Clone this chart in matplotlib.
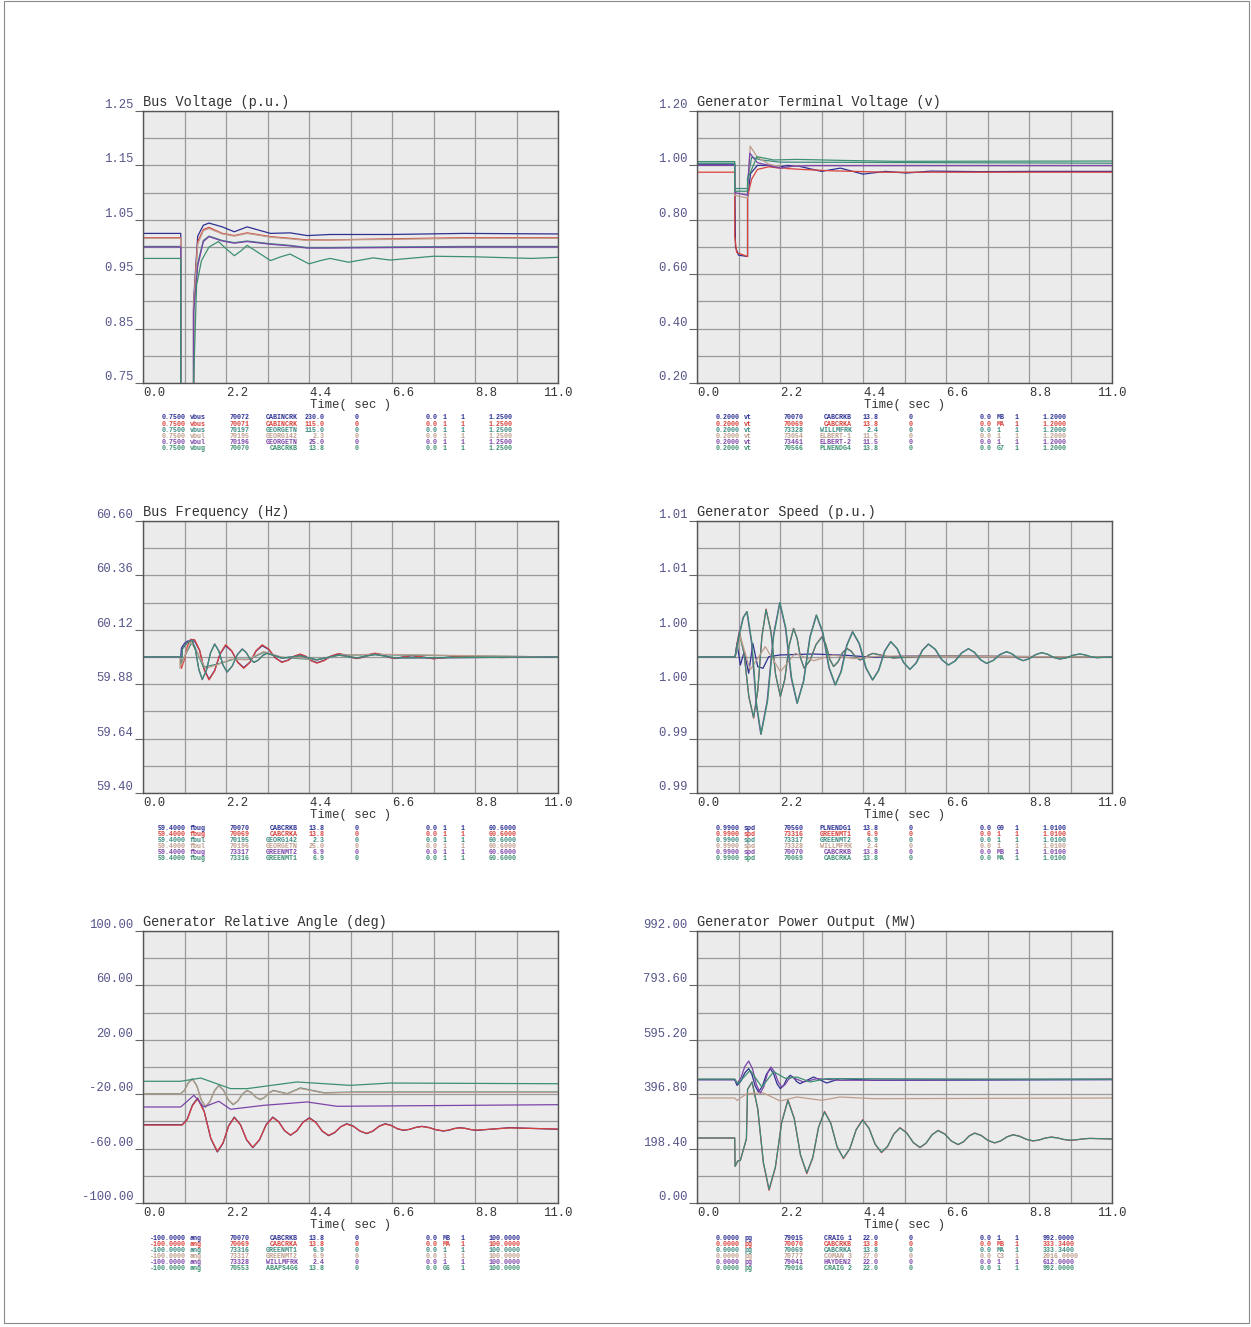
import matplotlib
matplotlib.use("Agg")
import matplotlib.pyplot as plt
from matplotlib.patches import Rectangle

plt.rcParams['font.family'] = ['Liberation Mono', 'DejaVu Sans Mono']

# one colour per channel row, same order in every panel
colors = ['#2e3192', '#d9413c', '#3b8a80', '#bf9d8c', '#7b45a8', '#3d9070']

# ---- Bus Voltage (p.u.)
vbus_t = [0, 1.0, 1.0, 1.34, 1.34, 1.45, 1.6, 1.75, 2.1, 2.42, 2.76, 3.38, 3.9, 4.35, 4.96, 6.55, 8.5, 11]
vbus1 = [1.025, 1.025, 0.45, 0.45, 0.90, 1.02, 1.040, 1.044, 1.037, 1.028, 1.037, 1.025, 1.026, 1.021, 1.023, 1.023, 1.025, 1.024]
vbus2 = [1.017, 1.017, 0.45, 0.45, 0.89, 1.01, 1.032, 1.036, 1.025, 1.021, 1.026, 1.019, 1.016, 1.013, 1.013, 1.015, 1.017, 1.017]
vbus3 = [1.001, 1.001, 0.45, 0.45, 0.885, 0.97, 1.012, 1.020, 1.012, 1.008, 1.011, 1.006, 1.003, 0.999, 0.999, 1.000, 1.001, 1.001]
vbus4 = [1.016, 1.016, 0.45, 0.45, 0.89, 1.005, 1.030, 1.034, 1.024, 1.020, 1.025, 1.018, 1.015, 1.012, 1.013, 1.014, 1.016, 1.016]
vbus5 = [1.000, 1.000, 0.45, 0.45, 0.88, 0.965, 1.010, 1.019, 1.011, 1.007, 1.010, 1.005, 1.002, 0.998, 0.998, 0.999, 1.000, 1.000]
vbus6_t = [0, 1.0, 1.0, 1.34, 1.34, 1.42, 1.55, 1.75, 2.0, 2.2, 2.42, 2.6, 2.76, 3.05, 3.38, 3.65, 3.9, 4.15, 4.4, 4.7, 4.96, 5.45, 6.1, 6.55, 7.7, 8.8, 10.3, 11]
vbus6 = [0.979, 0.979, 0.45, 0.45, 0.75, 0.93, 0.975, 1.000, 1.010, 0.997, 0.984, 0.993, 1.003, 0.990, 0.975, 0.982, 0.987, 0.978, 0.969, 0.975, 0.979, 0.972, 0.980, 0.976, 0.983, 0.982, 0.979, 0.981]

# ---- Generator Terminal Voltage
vt1_t = [0, 1.0, 1.02, 1.1, 1.34, 1.34, 1.42, 1.6, 1.9, 2.1, 2.4, 2.7, 3.3, 3.8, 4.4, 5.0, 5.55, 6.2, 7.5, 9.0, 11]
vt1 = [1.004, 1.004, 0.70, 0.67, 0.665, 0.88, 0.97, 1.0, 1.0, 0.992, 1.0, 0.997, 0.978, 0.99, 0.968, 0.978, 0.972, 0.979, 0.977, 0.978, 0.978]
vt2_t = [0, 1.0, 1.0, 1.05, 1.34, 1.34, 1.45, 1.6, 1.9, 2.2, 2.8, 3.6, 5.0, 11]
vt2 = [0.975, 0.975, 0.74, 0.68, 0.665, 0.885, 0.95, 0.985, 0.995, 0.99, 0.985, 0.98, 0.975, 0.975]
vt3_t = [0, 1.0, 1.0, 1.34, 1.34, 1.45, 1.7, 2.2, 11]
vt3 = [1.008, 1.008, 0.915, 0.915, 0.95, 1.03, 1.02, 1.012, 1.008]
vt4_t = [0, 1.0, 1.0, 1.34, 1.34, 1.41, 1.6, 1.9, 2.3, 2.6, 3.0, 11]
vt4 = [1.0, 1.0, 0.89, 0.88, 0.90, 1.071, 1.03, 1.005, 0.99, 0.998, 1.0, 1.0]
vt5_t = [0, 1.0, 1.0, 1.34, 1.34, 1.40, 1.6, 1.9, 2.2, 2.5, 3.0, 11]
vt5 = [1.0, 1.0, 0.90, 0.89, 0.92, 1.045, 1.01, 1.0, 0.99, 0.997, 0.999, 0.999]
vt6_t = [0, 1.0, 1.0, 1.34, 1.34, 1.59, 2.03, 2.65, 3.97, 5.29, 11]
vt6 = [1.014, 1.014, 0.905, 0.905, 0.95, 1.032, 1.02, 1.022, 1.018, 1.015, 1.016]

# ---- Bus Frequency (Hz)
f_t = [0, 1.0, 1.02, 1.10, 1.18, 1.26, 1.37, 1.497, 1.623, 1.75, 1.897, 2.043, 2.19, 2.35, 2.51, 2.67,
       2.833, 2.997, 3.16, 3.333, 3.507, 3.68, 3.843, 4.007, 4.17, 4.317, 4.463, 4.61, 4.8, 4.99, 5.18,
       5.343, 5.507, 5.67, 5.83, 5.99, 6.15, 6.327, 6.503, 6.68, 7.12, 7.7, 8.3, 9.5, 11]
f1 = [60.0, 60.0, 60.04, 60.06, 60.07, 60.072, 60.07, 60.030, 59.946, 59.902, 59.940, 60.013, 60.05, 60.026, 59.978, 59.953,
      59.977, 60.026, 60.05, 60.033, 59.996, 59.978, 59.986, 60.003, 60.011, 60.002, 59.984, 59.975, 59.985, 60.004, 60.013,
      60.009, 59.999, 59.994, 59.999, 60.010, 60.015, 60.010, 59.999, 59.994, 60.006, 59.993, 60.002, 59.998, 60.0]
f2 = [60.0, 60.0, 59.95, 59.99, 60.05, 60.078, 60.076, 60.032, 59.943, 59.899, 59.938, 60.015, 60.054, 60.028, 59.976, 59.95,
      59.976, 60.028, 60.054, 60.035, 59.996, 59.976, 59.985, 60.004, 60.013, 60.003, 59.983, 59.973, 59.984, 60.005, 60.015,
      60.010, 59.999, 59.993, 59.999, 60.011, 60.017, 60.011, 59.999, 59.993, 60.007, 59.992, 60.002, 59.998, 60.0]
f3_t = [0, 1.0, 1.0, 1.28, 1.36, 1.6, 2.0, 2.4, 2.8, 3.2, 3.7, 4.6, 5.2, 6.2, 11]
f3 = [60.0, 60.0, 59.97, 60.06, 60.05, 59.955, 59.97, 59.99, 59.99, 60.02, 59.998, 59.988, 60.008, 60.01, 60.0]
f4_t = [0, 0.98, 0.98, 1.26, 1.42, 1.66, 1.97, 2.32, 2.76, 3.2, 3.68, 4.17, 4.61, 5.18, 6.15, 11]
f4 = [60.0, 60.0, 59.95, 60.068, 60.024, 59.95, 59.966, 59.99, 59.988, 60.024, 59.999, 59.996, 59.987, 60.008, 60.012, 60.0]
f5_t = [0, 1.04, 1.04, 1.17, 1.30, 1.39, 1.48, 1.57, 1.68, 1.79, 1.90, 2.01, 2.12, 2.23, 2.363, 2.497, 2.63, 2.733,
        2.837, 2.94, 3.057, 3.173, 3.29, 3.68, 4.17, 4.61, 5.18, 5.67, 6.15, 6.68, 7.7, 11]
f5 = [60.0, 60.0, 60.036, 60.064, 60.076, 60.032, 59.944, 59.90, 59.94, 60.019, 60.058, 60.027, 59.964, 59.933, 59.959, 60.010, 60.036, 60.021,
      59.991, 59.976, 59.986, 60.007, 60.017, 59.995, 60.005, 59.987, 60.009, 59.996, 60.012, 59.996, 59.996, 60.0]
f6 = [60.0, 60.0, 60.034, 60.062, 60.074, 60.031, 59.946, 59.902, 59.941, 60.018, 60.056, 60.026, 59.965, 59.935, 59.960, 60.009, 60.034, 60.020,
      59.992, 59.977, 59.987, 60.006, 60.016, 59.995, 60.005, 59.988, 60.008, 59.996, 60.011, 59.996, 59.997, 60.0]

# ---- Generator Speed (p.u.)
spd1_t = [0, 1.01, 1.06, 1.15, 1.25, 1.37, 1.48, 1.61, 1.75, 1.9, 2.2, 3.09, 3.97, 4.67, 5.56, 11]
spd1 = [1.0, 1.0, 1.0010, 0.99941, 1.00039, 0.9988, 1.0010, 0.99929, 0.99917, 1.00002, 1.00015, 1.00022, 1.00012, 0.99998, 1.00007, 1.0]
spd2_t = [0, 1.01, 1.06, 1.12, 1.247, 1.373, 1.50, 1.61, 1.72, 1.83, 1.957, 2.083, 2.21, 2.327, 2.443, 2.56, 2.653, 2.747,
          2.84, 2.997, 3.153, 3.31, 3.413, 3.517, 3.62, 3.737, 3.853, 3.97, 4.087, 4.203, 4.32, 4.437, 4.553, 4.67, 5.2, 6.0, 11]
spd2 = [1.0, 1.0, 1.0010, 1.00186, 1.00027, 0.99709, 0.99550, 0.99751, 1.00152, 1.00353, 1.00192, 0.99870, 0.99709, 0.99835, 1.00086, 1.00211, 1.00138, 0.99990,
        0.99917, 0.99975, 1.00091, 1.00149, 1.00094, 0.99984, 0.99929, 0.99963, 1.00030, 1.00064, 1.00043, 1.00000, 0.99978, 0.99990, 1.00015, 1.00027, 0.99993, 1.00007, 1.0]
spd3 = [1.0, 1.0, 1.0009, 1.00180, 1.00025, 0.99712, 0.99555, 0.99754, 1.00148, 1.00348, 1.00189, 0.99872, 0.99712, 0.99837, 1.00084, 1.00208, 1.00136, 0.99991,
        0.99920, 0.99976, 1.00089, 1.00146, 1.00092, 0.99985, 0.99931, 0.99964, 1.00029, 1.00062, 1.00042, 1.00000, 0.99979, 0.99990, 1.00014, 1.00026, 0.99993, 1.00007, 1.0]
spd4_t = [0, 1.01, 1.15, 1.41, 1.81, 2.21, 2.6, 3.09, 3.62, 4.15, 4.85, 11]
spd4 = [1.0, 1.0, 1.00149, 0.99905, 1.00076, 0.99892, 1.00027, 0.99973, 1.00015, 0.99988, 1.00007, 1.0]
spd5_t = [0, 1.01, 1.12, 1.22, 1.32, 1.443, 1.567, 1.69, 1.857, 2.023, 2.19, 2.343, 2.497, 2.65, 2.82, 2.99, 3.16,
          3.327, 3.493, 3.66, 3.813, 3.967, 4.12, 4.297, 4.473, 4.65, 4.81, 4.97, 5.13, 5.30, 5.47, 5.64,
          5.803, 5.967, 6.13, 6.307, 6.483, 6.66, 6.837, 7.013, 7.19, 7.35, 7.51, 7.67, 7.847, 8.023, 8.2,
          8.347, 8.493, 8.64, 8.803, 8.967, 9.13, 9.29, 9.45, 9.61, 9.787, 9.963, 10.14, 10.287, 10.433, 10.58, 11.0]
spd5 = [1.0, 1.0, 1.0017, 1.0029, 1.00333, 1.00108, 0.99657, 0.99432, 0.99674, 1.00157, 1.00399, 1.00214, 0.99845, 0.99660, 0.99822, 1.00146, 1.00308,
        1.00180, 0.99923, 0.99794, 0.99892, 1.00088, 1.00186, 1.00097, 0.99920, 0.99831, 0.99902, 1.00043, 1.00113, 1.00062, 0.99960, 0.99909,
        0.99956, 1.00049, 1.00095, 1.00057, 0.99980, 0.99941, 0.99971, 1.00031, 1.00061, 1.00034, 0.99980, 0.99953, 0.99975, 1.00018, 1.00039,
        1.00023, 0.99990, 0.99973, 0.99988, 1.00017, 1.00032, 1.00020, 0.99997, 0.99985, 0.99994, 1.00013, 1.00022, 1.00015, 1.00002, 0.99995, 1.0]
spd6_t = [0, 1.01, 1.13, 1.23, 1.33, 1.455, 1.58, 1.70, 1.87, 2.035, 2.20, 2.355, 2.51, 2.66, 2.83, 3.0, 3.17,
          3.34, 3.505, 3.67, 3.825, 3.98, 4.13, 4.31, 4.485, 4.66, 4.82, 4.98, 5.14, 5.31, 5.48, 5.65,
          5.815, 5.98, 6.14, 6.32, 6.495, 6.67, 6.85, 7.025, 7.20, 7.36, 7.52, 7.68, 7.86, 8.035, 8.21,
          8.36, 8.505, 8.65, 8.815, 8.98, 9.14, 9.30, 9.46, 9.62, 9.80, 9.975, 10.15, 10.30, 10.445, 10.59, 11.0]

# ---- Generator Relative Angle (deg)
ang1_t = [0, 1.04, 1.17, 1.31, 1.45, 1.623, 1.797, 1.97, 2.12, 2.27, 2.42, 2.583, 2.747, 2.91, 3.087, 3.263, 3.44,
          3.597, 3.753, 3.91, 4.077, 4.243, 4.41, 4.58, 4.75, 4.92, 5.08, 5.24, 5.4, 5.577, 5.753, 5.93,
          6.093, 6.257, 6.42, 6.58, 6.74, 6.9, 7.063, 7.227, 7.39, 7.58, 7.77, 7.96, 8.107, 8.253, 8.4,
          8.547, 8.693, 8.84, 9.72, 11]
ang1 = [-42.4, -42.4, -38.5, -28.0, -22.8, -32.7, -52.6, -62.5, -56.1, -43.2, -36.8, -42.4, -53.7, -59.3, -53.7, -42.4, -36.8,
        -40.2, -46.9, -50.2, -47.0, -40.5, -37.3, -40.6, -47.2, -50.5, -48.3, -43.9, -41.7, -43.5, -47.2, -49.0,
        -47.2, -43.5, -41.7, -42.9, -45.4, -46.6, -45.9, -44.4, -43.6, -44.5, -46.2, -47.1, -46.5, -45.2, -44.6,
        -45.1, -46.1, -46.6, -44.6, -45.8]
ang2 = [-42.7, -42.7, -38.8, -28.5, -23.3, -33.0, -52.3, -62.0, -55.8, -43.5, -37.2, -42.6, -53.4, -59.0, -53.4, -42.7, -37.2,
        -40.4, -46.7, -50.0, -46.8, -40.7, -37.6, -40.8, -47.0, -50.2, -48.1, -44.0, -42.0, -43.7, -47.0, -48.8,
        -47.0, -43.7, -42.0, -43.1, -45.3, -46.4, -45.8, -44.5, -43.8, -44.6, -46.1, -46.9, -46.3, -45.3, -44.8,
        -45.2, -46.0, -46.4, -44.8, -45.6]
ang3_t = [0, 1.0, 1.1, 1.2, 1.31, 1.427, 1.543, 1.66, 1.777, 1.893, 2.01, 2.137, 2.263, 2.39, 2.513, 2.637, 2.76,
          2.877, 2.993, 3.11, 3.227, 3.343, 3.46, 3.82, 4.17, 4.79, 5.67, 11]
ang3 = [-19.6, -19.6, -17.0, -11.5, -8.6, -13.8, -24.2, -29.4, -25.4, -17.5, -13.5, -17.1, -24.2, -27.7, -25.1, -19.8, -17.2,
        -18.9, -22.3, -24.0, -22.3, -18.9, -17.2, -19.6, -15.4, -18.9, -18.4, -18.4]
ang4 = [-19.8, -19.8, -17.3, -11.9, -9.0, -14.1, -24.0, -29.0, -25.1, -17.8, -13.8, -17.4, -24.0, -27.4, -24.9, -20.0, -17.5,
        -19.1, -22.2, -23.7, -22.2, -19.1, -17.5, -19.8, -15.8, -19.1, -18.6, -18.6]
ang5_t = [0, 1.0, 1.35, 1.61, 2.01, 2.32, 3.2, 4.35, 5.14, 11]
ang5 = [-29.4, -29.4, -20.8, -29.4, -25.2, -31.1, -28.2, -25.7, -28.9, -27.7]
ang6_t = [0, 1.0, 1.53, 2.32, 2.76, 4.08, 5.49, 6.55, 11]
ang6 = [-10.5, -10.5, -8.1, -15.9, -15.9, -11.0, -13.5, -11.8, -12.3]

# ---- Generator Power Output (MW)
pg1_t = [0, 1.0, 1.06, 1.163, 1.267, 1.37, 1.457, 1.543, 1.63, 1.733, 1.837, 1.94, 2.03, 2.12, 2.21, 2.297, 2.383,
         2.47, 2.557, 2.643, 2.73, 3.09, 3.44, 3.79, 4.67, 11]
pg1 = [449.8, 449.8, 429.1, 444.3, 474.7, 489.9, 468.6, 426.1, 404.8, 426.1, 468.6, 489.9, 471.7, 435.2, 417.0, 429.2, 453.5,
       465.6, 458.0, 442.8, 435.2, 459.5, 437.7, 453.5, 447.4, 449.8]
pg2_t = [0, 1.0, 1.01, 1.08, 1.15, 1.31, 1.34, 1.46, 1.61, 1.76, 1.91, 2.077, 2.243, 2.41, 2.577, 2.743, 2.91,
         3.067, 3.223, 3.38, 3.547, 3.713, 3.88, 4.05, 4.22, 4.39, 4.557, 4.723, 4.89, 5.053, 5.217, 5.38,
         5.557, 5.733, 5.91, 6.07, 6.23, 6.39, 6.567, 6.743, 6.92, 7.067, 7.213, 7.36, 7.537, 7.713, 7.89,
         8.053, 8.217, 8.38, 8.557, 8.733, 8.91, 9.07, 9.23, 9.39, 9.553, 9.717, 9.88, 10.057, 10.233, 10.41, 11]
pg2 = [237.1, 237.1, 133.7, 153.2, 155.6, 234.6, 414.6, 441.3, 342.5, 145.0, 46.2, 128.9, 294.2, 376.9, 309.4, 174.5, 107.0,
       163.8, 277.5, 334.3, 291.2, 204.8, 161.7, 197.3, 268.3, 303.9, 273.8, 213.7, 183.6, 206.4, 251.9, 274.7,
       256.5, 220.0, 201.8, 217.6, 249.2, 265.0, 251.9, 225.8, 212.7, 223.4, 244.7, 255.3, 246.2, 227.9, 218.8,
       226.4, 241.6, 249.2, 243.4, 231.9, 226.1, 229.8, 237.0, 240.7, 237.7, 231.6, 228.6, 230.4, 234.0, 235.8, 233.4]
pg3 = [237.1, 237.1, 133.7, 153.2, 155.6, 234.6, 414.6, 441.3, 344.0, 148.0, 50.0, 131.0, 292.0, 374.0, 307.5, 176.0, 110.0,
       165.5, 276.0, 332.0, 290.0, 205.5, 164.0, 198.5, 267.0, 302.0, 272.5, 214.5, 185.0, 207.0, 251.0, 273.5,
       255.5, 220.8, 203.0, 218.3, 248.5, 264.0, 251.2, 226.3, 213.5, 223.9, 244.1, 254.5, 245.7, 228.4, 219.5,
       226.8, 241.1, 248.5, 243.0, 232.3, 226.8, 230.1, 236.7, 240.0, 237.3, 231.9, 229.2, 230.7, 233.8, 235.4, 233.6]
pg4_t = [0, 1.0, 1.06, 1.32, 1.76, 2.21, 2.65, 3.31, 3.79, 4.67, 11]
pg4 = [382.9, 382.9, 374.4, 398.7, 401.2, 372.0, 386.6, 374.4, 386.6, 380.5, 382.9]
pg5_t = [0, 1.0, 1.06, 1.163, 1.267, 1.37, 1.473, 1.577, 1.68, 1.773, 1.867, 1.96, 2.057, 2.153, 2.25, 2.337, 2.423,
         2.51, 2.82, 3.18, 3.79, 11]
pg5 = [449.8, 449.8, 435.2, 455.9, 497.2, 517.9, 488.7, 430.4, 401.2, 424.9, 472.3, 496.0, 477.8, 441.3, 423.1, 432.2, 450.4,
       459.5, 441.3, 453.5, 447.4, 452.3]
pg6_t = [0, 1.0, 1.08, 1.41, 1.72, 2.03, 2.34, 2.65, 3.0, 3.44, 11]
pg6 = [452.3, 452.3, 435.2, 483.8, 423.1, 478.8, 454.7, 459.5, 441.3, 453.5, 451.0]

# ---- channel tables under each plot
vbus_rows = [
    ['0.7500', 'vbus', '70072', 'CABINCRK', '230.0', '0', '0.0', '1', '1', '1.2500'],
    ['0.7500', 'vbus', '70071', 'CABINCRK', '115.0', '0', '0.0', '1', '1', '1.2500'],
    ['0.7500', 'vbus', '70197', 'GEORGETN', '115.0', '0', '0.0', '1', '1', '1.2500'],
    ['0.7500', 'vbul', '70195', 'GEORG142', '2.3', '0', '0.0', '1', '1', '1.2500'],
    ['0.7500', 'vbul', '70196', 'GEORGETN', '25.0', '0', '0.0', '1', '1', '1.2500'],
    ['0.7500', 'vbug', '70070', 'CABCRKB', '13.8', '0', '0.0', '1', '1', '1.2500'],
]
vt_rows = [
    ['0.2000', 'vt', '70070', 'CABCRKB', '13.8', '0', '0.0', 'MB', '1', '1.2000'],
    ['0.2000', 'vt', '70069', 'CABCRKA', '13.8', '0', '0.0', 'MA', '1', '1.2000'],
    ['0.2000', 'vt', '73328', 'WILLMFRK', '2.4', '0', '0.0', '1', '1', '1.2000'],
    ['0.2000', 'vt', '73054', 'ELBERT-1', '11.5', '0', '0.0', '1', '1', '1.2000'],
    ['0.2000', 'vt', '73461', 'ELBERT-2', '11.5', '0', '0.0', '1', '1', '1.2000'],
    ['0.2000', 'vt', '70566', 'PLNENDG4', '13.8', '0', '0.0', 'G7', '1', '1.2000'],
]
f_rows = [
    ['59.4000', 'fbug', '70070', 'CABCRKB', '13.8', '0', '0.0', '1', '1', '60.6000'],
    ['59.4000', 'fbug', '70069', 'CABCRKA', '13.8', '0', '0.0', '1', '1', '60.6000'],
    ['59.4000', 'fbul', '70195', 'GEORG142', '2.3', '0', '0.0', '1', '1', '60.6000'],
    ['59.4000', 'fbul', '70196', 'GEORGETN', '25.0', '0', '0.0', '1', '1', '60.6000'],
    ['59.4000', 'fbug', '73317', 'GREENMT2', '6.9', '0', '0.0', '1', '1', '60.6000'],
    ['59.4000', 'fbug', '73316', 'GREENMT1', '6.9', '0', '0.0', '1', '1', '60.6000'],
]
spd_rows = [
    ['0.9900', 'spd', '70560', 'PLNENDG1', '13.8', '0', '0.0', 'G9', '1', '1.0100'],
    ['0.9900', 'spd', '73316', 'GREENMT1', '6.9', '0', '0.0', '1', '1', '1.0100'],
    ['0.9900', 'spd', '73317', 'GREENMT2', '6.9', '0', '0.0', '1', '1', '1.0100'],
    ['0.9900', 'spd', '73328', 'WILLMFRK', '2.4', '0', '0.0', '1', '1', '1.0100'],
    ['0.9900', 'spd', '70070', 'CABCRKB', '13.8', '0', '0.0', 'MB', '1', '1.0100'],
    ['0.9900', 'spd', '70069', 'CABCRKA', '13.8', '0', '0.0', 'MA', '1', '1.0100'],
]
ang_rows = [
    ['-100.0000', 'ang', '70070', 'CABCRKB', '13.8', '0', '0.0', 'MB', '1', '100.0000'],
    ['-100.0000', 'ang', '70069', 'CABCRKA', '13.8', '0', '0.0', 'MA', '1', '100.0000'],
    ['-100.0000', 'ang', '73316', 'GREENMT1', '6.9', '0', '0.0', '1', '1', '100.0000'],
    ['-100.0000', 'ang', '73317', 'GREENMT2', '6.9', '0', '0.0', '1', '1', '100.0000'],
    ['-100.0000', 'ang', '73328', 'WILLMFRK', '2.4', '0', '0.0', '1', '1', '100.0000'],
    ['-100.0000', 'ang', '70553', 'ABAPS4G6', '13.8', '0', '0.0', 'G6', '1', '100.0000'],
]
pg_rows = [
    ['0.0000', 'pg', '79015', 'CRAIG 1', '22.0', '0', '0.0', '1', '1', '992.0000'],
    ['0.0000', 'pg', '70070', 'CABCRKB', '13.8', '0', '0.0', 'MB', '1', '333.3400'],
    ['0.0000', 'pg', '70069', 'CABCRKA', '13.8', '0', '0.0', 'MA', '1', '333.3400'],
    ['0.0000', 'pg', '70777', 'COMAN 3', '27.0', '0', '0.0', 'C3', '1', '2016.0000'],
    ['0.0000', 'pg', '79041', 'HAYDEN2', '22.0', '0', '0.0', '1', '1', '612.0000'],
    ['0.0000', 'pg', '79016', 'CRAIG 2', '22.0', '0', '0.0', '1', '1', '992.0000'],
]

fig = plt.figure(figsize=(12.51, 13.27), dpi=100)
fig.add_artist(Rectangle((4 / 1251, 4 / 1327), 1245 / 1251, 1322 / 1327,
                         transform=fig.transFigure, fill=False, ec='#8a8a8a', lw=0.8))

W, H = 415 / 1251, 272 / 1327
col_x = [143 / 1251, 697 / 1251]
row_y = [1 - 383 / 1327, 1 - 793 / 1327, 1 - 1203 / 1327]
# table columns: (pixels right of the axes, alignment)
tab_cols = [(43, 'right'), (47, 'left'), (87, 'left'), (155, 'right'), (182, 'right'),
            (212, 'left'), (283, 'left'), (300, 'left'), (318, 'left'), (346, 'left')]


def panel(c, r, title, ymin, ymax, fmt, series, rows):
    ax = fig.add_axes([col_x[c], row_y[r], W, H])
    ax.set_facecolor('#ebebeb')
    for (t, v), col in zip(series, colors):
        ax.plot(t, v, color=col, lw=0.9)
    ax.set_xlim(0, 11)
    ax.set_ylim(ymin, ymax)

    xt = [0, 2.2, 4.4, 6.6, 8.8, 11.0]
    ax.set_xticks(xt, ['%.1f' % x for x in xt])
    ax.set_xticks([1.1, 3.3, 5.5, 7.7, 9.9], minor=True)
    step = (ymax - ymin) / 5
    yt = [ymin + i * step for i in range(6)]
    ax.set_yticks(yt, [fmt % y for y in yt])
    ax.set_yticks([ymin + (i + 0.5) * step for i in range(5)], minor=True)
    ax.grid(which='both', color='#9a9a9a', lw=0.9)
    ax.set_axisbelow(True)
    ax.tick_params(axis='y', which='major', length=6, width=0.8, color='#666',
                   pad=1, labelsize=8.8, labelcolor='#55558a')
    ax.tick_params(axis='x', which='major', length=0, pad=3, labelsize=8.8, labelcolor='#333')
    ax.tick_params(which='minor', length=0)
    for lbl in ax.get_yticklabels():
        lbl.set_verticalalignment('bottom')
    xl = ax.get_xticklabels()
    for lbl in xl[:-1]:
        lbl.set_horizontalalignment('left')
    for s in ax.spines.values():
        s.set_color('#555')
        s.set_linewidth(1.0)

    ax.text(0, 1.006, title, transform=ax.transAxes, ha='left', va='bottom',
            fontsize=9.8, color='#333')
    ax.set_xlabel('Time( sec )', fontsize=8.8, color='#333', labelpad=0)

    for i, row in enumerate(rows):
        y = -(35 + 6.1 * i) / 272
        for (dx, ha), txt in zip(tab_cols, row):
            ax.text(dx / 415, y, txt, transform=ax.transAxes, ha=ha, va='center',
                    fontsize=4.8, fontweight='bold', color=colors[i], clip_on=False)
    return ax


panel(0, 0, 'Bus Voltage (p.u.)', 0.75, 1.25, '%.2f',
      [(vbus_t, vbus1), (vbus_t, vbus2), (vbus_t, vbus3), (vbus_t, vbus4), (vbus_t, vbus5), (vbus6_t, vbus6)],
      vbus_rows)
panel(1, 0, 'Generator Terminal Voltage (v)', 0.2, 1.2, '%.2f',
      [(vt1_t, vt1), (vt2_t, vt2), (vt3_t, vt3), (vt4_t, vt4), (vt5_t, vt5), (vt6_t, vt6)],
      vt_rows)
panel(0, 1, 'Bus Frequency (Hz)', 59.4, 60.6, '%.2f',
      [(f_t, f1), (f_t, f2), (f3_t, f3), (f4_t, f4), (f5_t, f5), (f5_t, f6)],
      f_rows)
panel(1, 1, 'Generator Speed (p.u.)', 0.99, 1.01, '%.2f',
      [(spd1_t, spd1), (spd2_t, spd2), (spd2_t, spd3), (spd4_t, spd4), (spd5_t, spd5), (spd6_t, spd5)],
      spd_rows)
panel(0, 2, 'Generator Relative Angle (deg)', -100, 100, '%.2f',
      [(ang1_t, ang1), (ang1_t, ang2), (ang3_t, ang3), (ang3_t, ang4), (ang5_t, ang5), (ang6_t, ang6)],
      ang_rows)
panel(1, 2, 'Generator Power Output (MW)', 0, 992, '%.2f',
      [(pg1_t, pg1), (pg2_t, pg2), (pg2_t, pg3), (pg4_t, pg4), (pg5_t, pg5), (pg6_t, pg6)],
      pg_rows)

plt.savefig('out.png', dpi=100)
